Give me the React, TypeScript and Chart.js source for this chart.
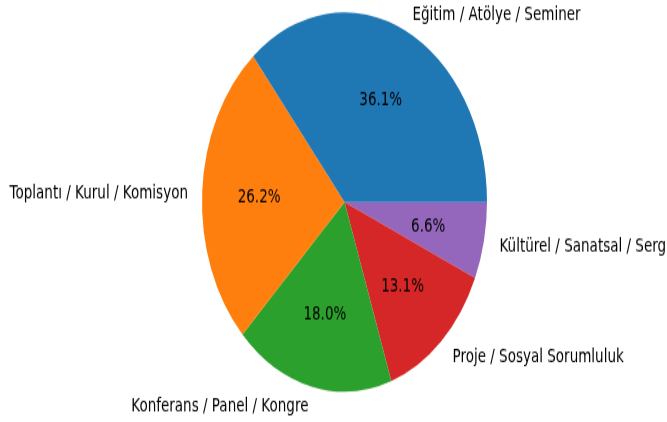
import React, { useEffect, useRef } from "react";
import { Chart, registerables } from "chart.js";

Chart.register(...registerables);

const categories = [
  "Eğitim / Atölye / Seminer",
  "Toplantı / Kurul / Komisyon",
  "Konferans / Panel / Kongre",
  "Proje / Sosyal Sorumluluk",
  "Kültürel / Sanatsal / Sergi",
];
const counts = [22, 16, 11, 8, 4];
const colors = ["#1f77b4", "#ff7f0e", "#2ca02c", "#d62728", "#9467bd"];

const W = 667;
const H = 422;
const H0 = 317; // unstretched canvas height
const SCALE_Y = H / H0;
const FONT = '13.5px "DejaVu Sans"';
const TEXT_DY = 1.5;

export default function App() {
  const ref = useRef<HTMLCanvasElement | null>(null);

  useEffect(() => {
    if (!ref.current) return;
    const total = counts.reduce((a, b) => a + b, 0);
    // matplotlib draws counter-clockwise from 3 o'clock; Chart.js clockwise -> reverse
    const revLabels = [...categories].reverse();
    const revCounts = [...counts].reverse();
    const revColors = [...colors].reverse();

    const labelPlugin = {
      id: "pieLabels",
      afterDatasetsDraw(chart: any) {
        const ctx = chart.ctx;
        const meta = chart.getDatasetMeta(0);
        ctx.save();
        ctx.font = FONT;
        ctx.fillStyle = "#000";
        ctx.textBaseline = "middle";
        meta.data.forEach((arc: any, i: number) => {
          const p = arc.getProps(["x", "y", "startAngle", "endAngle", "outerRadius"], true);
          const mid = (p.startAngle + p.endAngle) / 2;
          const c = Math.cos(mid);
          const s = Math.sin(mid);
          const r = p.outerRadius;
          ctx.textAlign = c >= 0 ? "left" : "right";
          const lx = p.x + 1.1 * r * c + (c >= 0 ? 1.5 : 0);
          ctx.fillText(revLabels[i], lx, p.y + 1.1 * r * s + TEXT_DY);
          ctx.textAlign = "center";
          const pct = ((revCounts[i] / total) * 100).toFixed(1) + "%";
          ctx.fillText(pct, p.x + 0.6 * r * c, p.y + 0.6 * r * s + TEXT_DY);
        });
        ctx.restore();
      },
    };

    const chart = new Chart(ref.current, {
      type: "pie",
      data: {
        labels: revLabels,
        datasets: [
          {
            data: revCounts,
            backgroundColor: revColors,
            borderWidth: 0,
          },
        ],
      },
      options: {
        responsive: false,
        animation: false,
        rotation: 90,
        layout: {
          padding: { left: 202, right: 180, top: 9.2, bottom: 22.8 },
        },
        plugins: {
          legend: { display: false },
          tooltip: { enabled: false },
        },
      },
      plugins: [labelPlugin],
    });
    return () => chart.destroy();
  }, []);

  return (
    <div
      style={{
        position: "fixed",
        left: 0,
        top: 0,
        width: W,
        height: H,
        background: "#fff",
        overflow: "hidden",
      }}
    >
      <div
        style={{
          width: W,
          height: H0,
          transform: `scaleY(${SCALE_Y})`,
          transformOrigin: "0 0",
        }}
      >
        <canvas ref={ref} width={W} height={H0} />
      </div>
    </div>
  );
}
